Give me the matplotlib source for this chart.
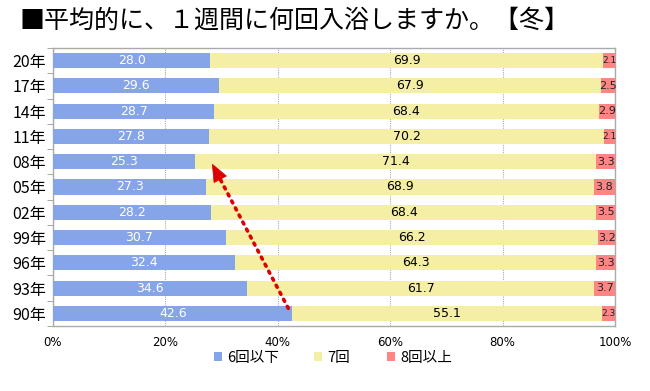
import matplotlib
matplotlib.use("Agg")
import matplotlib.pyplot as plt
import numpy as np
from matplotlib.ticker import FuncFormatter
from matplotlib.patches import Polygon
from matplotlib.transforms import IdentityTransform

plt.rcParams['font.family'] = ['Noto Sans CJK JP', 'DejaVu Sans']

years = ["20年", "17年", "14年", "11年", "08年", "05年", "02年", "99年", "96年", "93年", "90年"]
le6 = [28.0, 29.6, 28.7, 27.8, 25.3, 27.3, 28.2, 30.7, 32.4, 34.6, 42.6]
eq7 = [69.9, 67.9, 68.4, 70.2, 71.4, 68.9, 68.4, 66.2, 64.3, 61.7, 55.1]
ge8 = [2.1, 2.5, 2.9, 2.1, 3.3, 3.8, 3.5, 3.2, 3.3, 3.7, 2.3]
series_names = ["6回以下", "7回", "8回以上"]
xticks = [0, 20, 40, 60, 80, 100]
title = "■平均的に、１週間に何回入浴しますか。【冬】"

c_blue = "#86A4E8"
c_yel = "#F5EFA6"
c_red = "#FF8585"
c_arrow = "#DD0000"

fig = plt.figure(figsize=(6.5, 3.91), dpi=100)
ax = fig.add_axes([53/650, 1 - 326/391, (615-53)/650, (326-48)/391])

y = list(range(len(years)))
h = 0.6
b1 = ax.barh(y, le6, height=h, color=c_blue, label=series_names[0], zorder=3)
left2 = le6
b2 = ax.barh(y, eq7, left=left2, height=h, color=c_yel, label=series_names[1], zorder=3)
left3 = [a + b for a, b in zip(le6, eq7)]
b3 = ax.barh(y, ge8, left=left3, height=h, color=c_red, label=series_names[2], zorder=3)

for i in y:
    ax.text(le6[i] / 2, i, f"{le6[i]:.1f}", ha="center", va="center",
            color="white", fontsize=9, family="DejaVu Sans", zorder=4)
    ax.text(le6[i] + eq7[i] / 2, i, f"{eq7[i]:.1f}", ha="center", va="center",
            color="black", fontsize=9, family="DejaVu Sans", zorder=4)
    fs = 6.5 if ge8[i] < 2.4 else 8
    ax.text(left3[i] + ge8[i] / 2, i, f"{ge8[i]:.1f}", ha="center", va="center",
            color="#222222", fontsize=fs, family="DejaVu Sans", zorder=4, clip_on=False)

ax.set_xlim(0, 100)
ax.set_ylim(len(years) - 0.5, -0.5)
ax.set_yticks(y)
ax.set_yticklabels(years, fontsize=11.5)
ax.set_xticks(xticks)
ax.xaxis.set_major_formatter(FuncFormatter(lambda v, p: f"{int(v)}%"))
ax.tick_params(axis="x", length=0, labelsize=8.5, pad=7)
ax.tick_params(axis="y", length=0, pad=5)
for lbl in ax.get_xticklabels():
    lbl.set_family("DejaVu Sans")

# minor ticks between categories on y axis
ax.set_yticks([i + 0.5 for i in range(-1, len(years))], minor=True)
ax.tick_params(axis="y", which="minor", length=4, color="#999999", direction="out")

ax.grid(axis="x", color="#aaaaaa", linestyle=(0, (1, 1)), linewidth=0.8, zorder=0)
for s in ax.spines.values():
    s.set_color("#aaaaaa")
    s.set_linewidth(1)

# arrow: dotted shaft + solid triangular head (computed in display space)
tail_d = (41.87, 9.80)
tip_d = (28.35, 4.10)
tail_p = ax.transData.transform(tail_d)
tip_p = ax.transData.transform(tip_d)
u = (tip_p - tail_p) / np.hypot(*(tip_p - tail_p))
perp = np.array([-u[1], u[0]])
head_len, head_half = 17.0, 7.0
base_p = tip_p - head_len * u
tri = [tip_p, base_p + head_half * perp, base_p - head_half * perp]
shaft_end = ax.transData.inverted().transform(base_p + 2 * u)
ax.plot([tail_d[0], shaft_end[0]], [tail_d[1], shaft_end[1]], color=c_arrow,
        linestyle=(0, (0.6, 1.6)), linewidth=2.6, dash_capstyle="round",
        zorder=6, clip_on=False)
ax.add_patch(Polygon(tri, closed=True, facecolor=c_arrow, edgecolor=c_arrow,
                     linewidth=0.5, transform=IdentityTransform(), zorder=7,
                     clip_on=False))

fig.text(20/650, 1 - 21/391, title, fontsize=18, va="center", ha="left")

legend_x = [214, 314, 387]
for hdl, name, lx in zip([b1, b2, b3], series_names, legend_x):
    lg = fig.legend(handles=[hdl], labels=[name], loc="center left",
                    bbox_to_anchor=(lx/650, 1 - 358/391), frameon=False,
                    fontsize=10.5, handlelength=0.55, handleheight=0.55,
                    handletextpad=0.35, borderpad=0, borderaxespad=0)

fig.savefig("out.png", dpi=100)
